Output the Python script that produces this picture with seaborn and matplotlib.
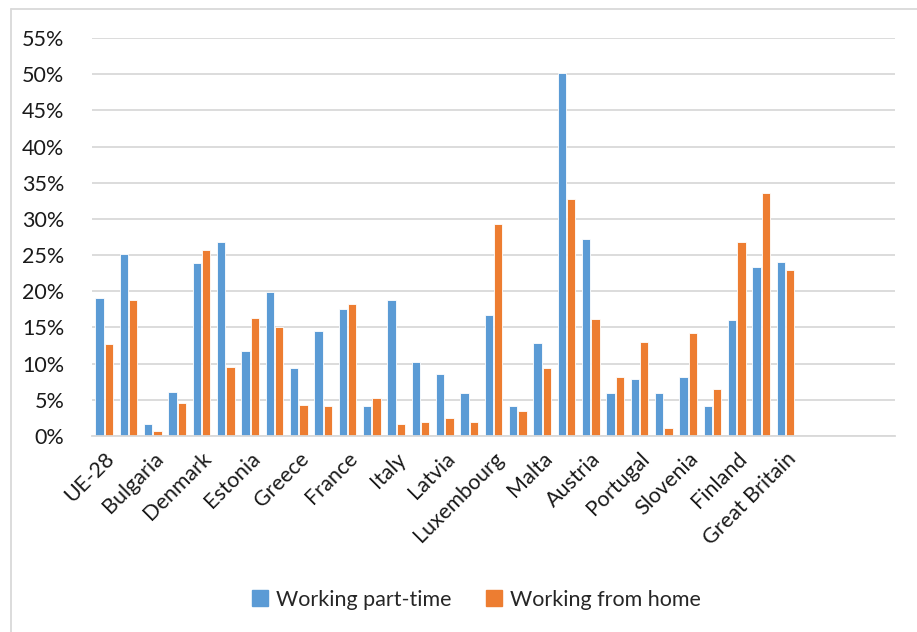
import pandas as pd
import numpy as np
import matplotlib
matplotlib.use("Agg")
import matplotlib.pyplot as plt
from matplotlib.ticker import PercentFormatter, MultipleLocator
from matplotlib.lines import Line2D
import seaborn as sns

countries = ["UE-28", "Belgium", "Bulgaria", "Czech Republic", "Denmark", "Germany",
             "Estonia", "Ireland", "Greece", "Spain", "France", "Croatia", "Italy",
             "Cyprus", "Latvia", "Lithuania", "Luxembourg", "Hungary", "Malta",
             "Netherlands", "Austria", "Poland", "Portugal", "Romania", "Slovenia",
             "Slovakia", "Finland", "Sweden", "Great Britain"]
# empty slots Excel left at the end of the category axis
blank_slots = [" ", "  ", "   ", "    "]

part_time = [19.1, 25.1, 1.7, 6.1, 23.9, 26.8, 11.7, 19.9, 9.4, 14.5, 17.5, 4.2, 18.8,
             10.2, 8.6, 6.0, 16.7, 4.1, 12.8, 50.1, 27.2, 5.9, 7.9, 5.9, 8.2, 4.1,
             16.0, 23.4, 24.1]
from_home = [12.7, 18.8, 0.7, 4.5, 25.7, 9.5, 16.3, 15.1, 4.3, 4.1, 18.3, 5.2, 1.7,
             1.9, 2.5, 2.0, 29.3, 3.5, 9.4, 32.7, 16.1, 8.1, 13.0, 1.1, 14.2, 6.5,
             26.8, 33.6, 22.9]

series_names = ["Working part-time", "Working from home"]
colors = ["#5B9BD5", "#ED7D31"]

df = pd.DataFrame({"country": countries, series_names[0]: part_time, series_names[1]: from_home})
long = df.melt(id_vars="country", var_name="series", value_name="value")

sns.set_style("white")
plt.rcParams["font.family"] = ["Lato", "DejaVu Sans"]
fs = 15.5

fig = plt.figure(figsize=(9.17, 6.32), dpi=100)
ax = fig.add_axes([92 / 917, 196 / 632, (895 - 92) / 917, (436 - 38) / 632])

order = countries + blank_slots
sns.barplot(data=long, x="country", y="value", hue="series", order=order,
            hue_order=series_names, palette=colors, saturation=1, width=0.78, gap=0.14,
            edgecolor="white", linewidth=0.6, ax=ax, legend=False)

ax.set_ylim(0, 55)
ax.set_xlim(-0.5, len(order) - 0.5)
ax.yaxis.set_major_locator(MultipleLocator(5))
ax.yaxis.set_major_formatter(PercentFormatter(decimals=0))
ax.grid(axis="y", color="#D9D9D9", linewidth=1.3)
ax.set_axisbelow(True)
for s in ["top", "right", "left"]:
    ax.spines[s].set_visible(False)
ax.spines["bottom"].set_color("#D9D9D9")
ax.spines["bottom"].set_linewidth(1.3)
ax.set_xlabel("")
ax.set_ylabel("")

ticks = list(range(0, len(order), 2))
ax.set_xticks(ticks)
ax.set_xticklabels([order[i] for i in ticks], rotation=45, ha="right",
                   rotation_mode="anchor", fontsize=fs, color="#1a1a1a")
ax.tick_params(axis="x", length=0, pad=9)
ax.tick_params(axis="y", length=0, pad=20, labelsize=fs, labelcolor="#1a1a1a")

handles = [Line2D([], [], marker="s", linestyle="", markersize=11,
                  markerfacecolor=c, markeredgecolor=c) for c in colors]
fig.legend(handles, series_names, loc="center", bbox_to_anchor=(475 / 917, 1 - 600 / 632),
           ncol=2, frameon=False, fontsize=fs, handletextpad=0.25, columnspacing=1.5,
           handlelength=1.0)

# chart frame (only top and left edges are visible in the crop)
fig.add_artist(Line2D([11 / 917, 11 / 917], [0, 1 - 9 / 632], transform=fig.transFigure,
                      color="#D9D9D9", linewidth=1.3))
fig.add_artist(Line2D([11 / 917, 1], [1 - 9 / 632, 1 - 9 / 632], transform=fig.transFigure,
                      color="#D9D9D9", linewidth=1.3))

fig.savefig("out.png", dpi=100)
